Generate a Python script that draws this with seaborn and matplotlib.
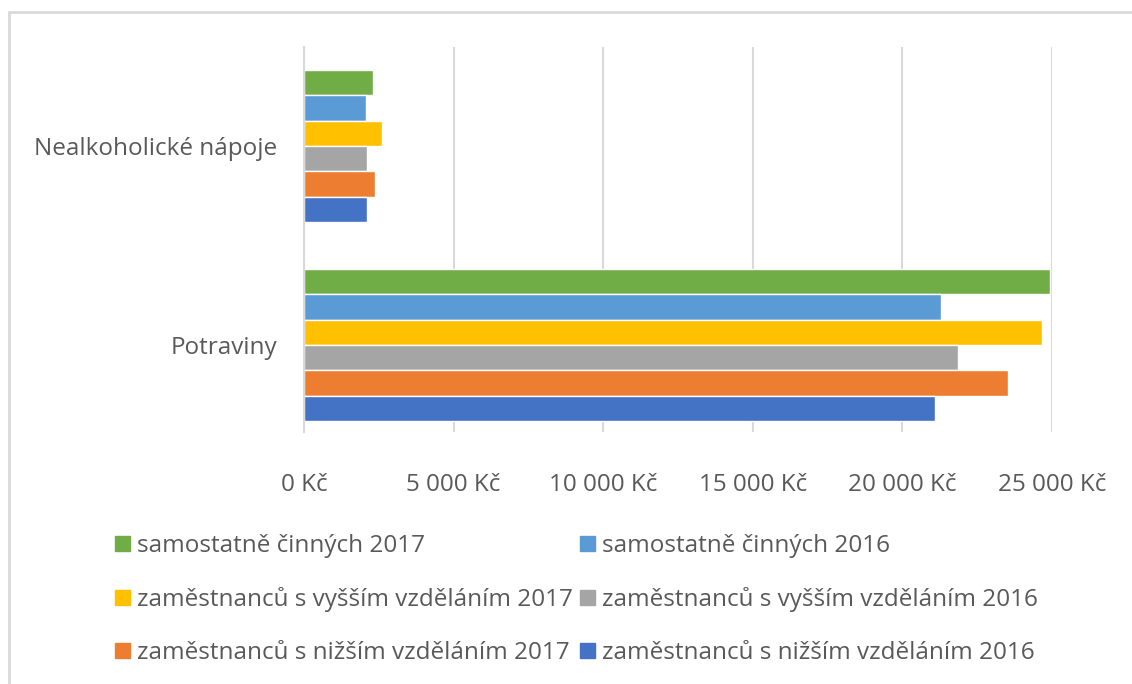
import matplotlib
matplotlib.use("Agg")
import matplotlib.pyplot as plt
import matplotlib.patches as mpatches
import seaborn as sns
import pandas as pd
from matplotlib.ticker import FuncFormatter, MultipleLocator

categories = ["Nealkoholické nápoje", "Potraviny"]
series = [
    "samostatně činných 2017",
    "samostatně činných 2016",
    "zaměstnanců s vyšším vzděláním 2017",
    "zaměstnanců s vyšším vzděláním 2016",
    "zaměstnanců s nižším vzděláním 2017",
    "zaměstnanců s nižším vzděláním 2016",
]
colors = ["#70AD47", "#5B9BD5", "#FFC000", "#A5A5A5", "#ED7D31", "#4472C4"]

napoje = [2316, 2072, 2617, 2116, 2373, 2116]
potraviny = [24944, 21300, 24676, 21858, 23519, 21100]

rows = []
for s, a, b in zip(series, napoje, potraviny):
    rows.append({"kategorie": categories[0], "skupina": s, "hodnota": a})
    rows.append({"kategorie": categories[1], "skupina": s, "hodnota": b})
df = pd.DataFrame(rows)

sns.set_theme(style="white")
plt.rcParams["font.family"] = ["Open Sans", "DejaVu Sans"]
text_color = "#595959"
fs = 17.5

fig = plt.figure(figsize=(11.32, 6.84), dpi=100)
ax = fig.add_axes([304 / 1132, 1 - 432 / 684, (1052 - 304) / 1132, (432 - 47) / 684])

sns.barplot(data=df, y="kategorie", x="hodnota", hue="skupina", order=categories,
            hue_order=series, palette=colors, orient="h", width=0.765,
            saturation=1, ax=ax, legend=False)

ax.set_xlim(0, 25000)
ax.set_ylim(1.437, -0.497)
ax.xaxis.set_major_locator(MultipleLocator(5000))
ax.xaxis.set_major_formatter(FuncFormatter(lambda v, p: f"{int(v):,} Kč".replace(",", " ")))
ax.grid(axis="x", color="#d9d9d9", linewidth=1.5)
ax.set_axisbelow(True)
for side in ["top", "right", "bottom"]:
    ax.spines[side].set_visible(False)
ax.spines["left"].set_color("#d9d9d9")
ax.spines["left"].set_linewidth(1.5)
ax.set_xlabel("")
ax.set_ylabel("")
ax.tick_params(axis="x", length=0, pad=29.5, labelsize=fs, labelcolor=text_color)
ax.tick_params(axis="y", length=0, pad=19, labelsize=fs, labelcolor=text_color)

handles = [mpatches.Patch(color=c, label=s) for s, c in zip(series, colors)]
order = [0, 2, 4, 1, 3, 5]
fig.legend([handles[i] for i in order], [series[i] for i in order],
           loc="upper left", bbox_to_anchor=(115 / 1132, 1 - 534 / 684), ncol=2,
           frameon=False, fontsize=fs, labelcolor=text_color,
           handlelength=0.6, handleheight=0.6, handletextpad=0.3,
           columnspacing=0.3, labelspacing=1.2, borderpad=0, borderaxespad=0)

fig.patches.append(mpatches.Rectangle((9 / 1132, -0.1), 2, 1.1 - 12 / 684,
                                      transform=fig.transFigure, fill=False,
                                      edgecolor="#d9d9d9", linewidth=2))

fig.savefig("out.png", dpi=100, facecolor="white")
